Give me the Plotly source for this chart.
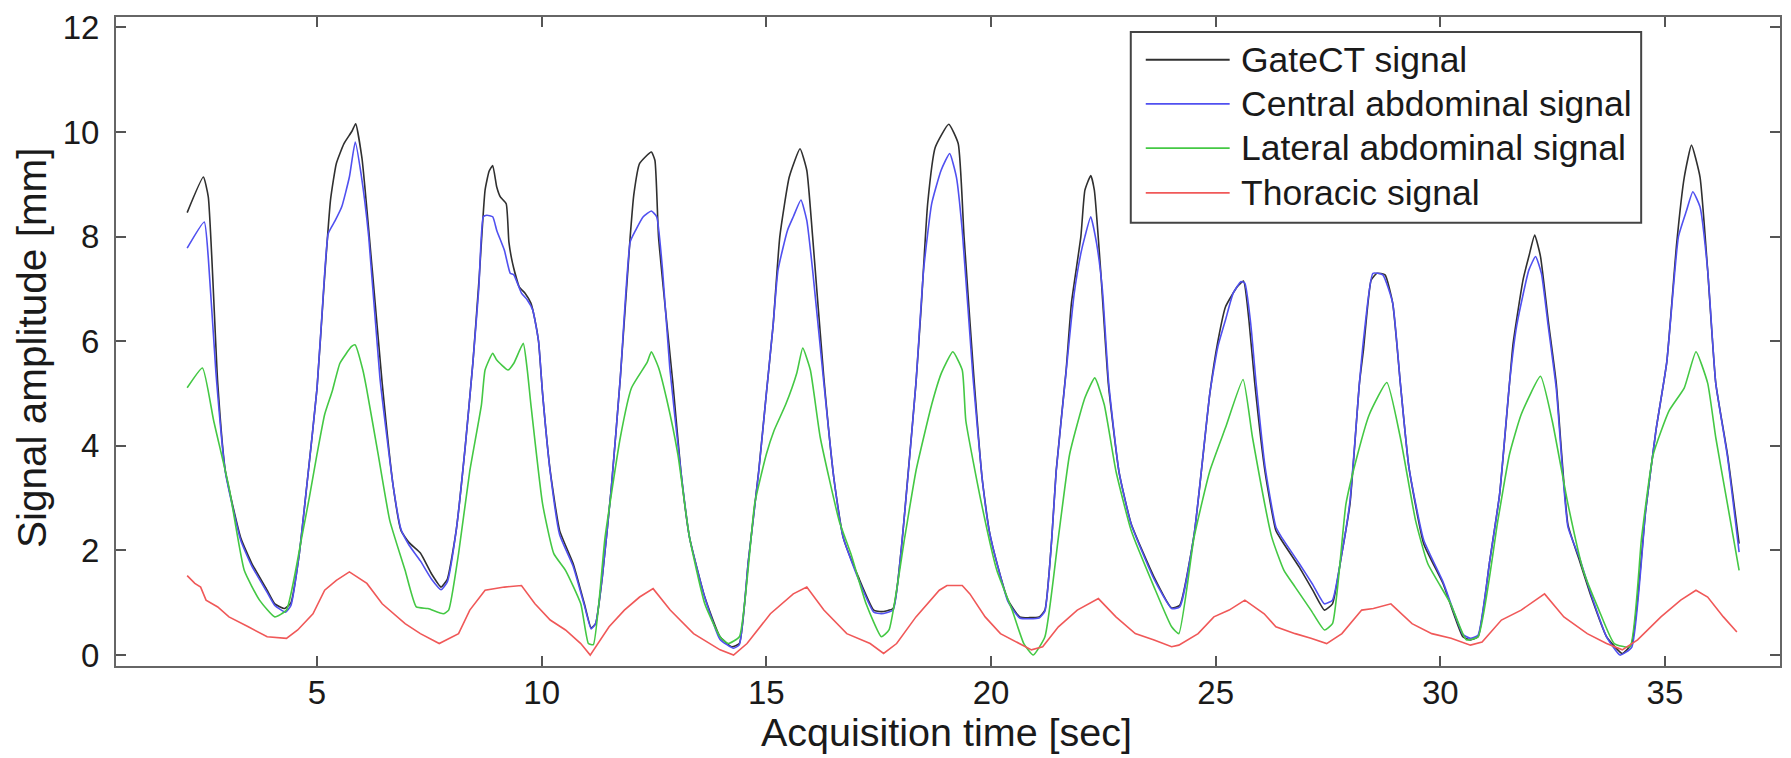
import plotly.graph_objects as go

# ---- respiratory signals (time in s, amplitude in mm) ----
gate_t = [2.11, 2.47, 2.58, 2.79, 2.96, 3.30, 3.55, 3.89, 4.06, 4.28, 4.42,
          4.60, 4.78, 5.00, 5.15, 5.30, 5.43, 5.60, 5.78, 5.86,
          6.00, 6.23, 6.45, 6.70, 6.87, 7.05, 7.30, 7.55, 7.76, 7.90,
          8.10, 8.30, 8.47, 8.61, 8.74, 8.83, 8.91, 9.00, 9.08, 9.21, 9.27, 9.35,
          9.50, 9.63, 9.76, 9.85, 9.93,
          10.02, 10.19, 10.40, 10.70, 10.95, 11.10, 11.20,
          11.35, 11.55, 11.75, 11.97, 12.05, 12.18, 12.44, 12.52,
          12.60, 12.74, 12.92, 13.10, 13.29, 13.63, 13.97, 14.23, 14.40,
          14.60, 14.83, 15.00, 15.15, 15.30, 15.51, 15.75, 15.90,
          16.03, 16.28, 16.50, 16.71, 17.05, 17.39, 17.56, 17.82,
          18.00, 18.16, 18.33, 18.45, 18.59, 18.76, 19.06, 19.27,
          19.40, 19.62, 19.80, 19.96, 20.15, 20.38, 20.64, 21.07, 21.20,
          21.35, 21.45, 21.67, 21.79, 22.00, 22.09, 22.22, 22.30,
          22.44, 22.61, 22.85, 23.12, 23.63, 24.02, 24.20,
          24.52, 24.87, 25.05, 25.22, 25.48, 25.62, 25.74, 25.87,
          26.10, 26.34, 26.47, 26.86, 27.16, 27.42, 27.60,
          27.80, 27.99, 28.20, 28.29, 28.46, 28.59, 28.77, 28.94, 29.11,
          29.30, 29.63, 30.06, 30.50, 30.67, 30.84,
          31.10, 31.32, 31.54, 31.62, 31.84, 31.97, 32.10, 32.23, 32.40, 32.58,
          32.84, 33.10, 33.36, 33.70, 34.05, 34.26,
          34.57, 34.80, 35.04, 35.26, 35.43, 35.59, 35.78, 35.95, 36.13, 36.39, 36.65]
gate_y = [8.46, 9.14, 8.76, 5.20, 3.52, 2.25, 1.75, 1.24, 0.98, 0.89, 1.00,
          1.90, 3.30, 5.10, 7.00, 8.70, 9.40, 9.78, 10.02, 10.16,
          9.50, 7.36, 5.20, 3.20, 2.38, 2.15, 1.95, 1.55, 1.30, 1.45,
          2.40, 4.00, 5.60, 7.23, 8.89, 9.25, 9.36, 8.95, 8.76, 8.63, 7.90, 7.50,
          7.04, 6.92, 6.73, 6.41, 6.00,
          5.00, 3.52, 2.38, 1.75, 0.98, 0.52, 0.60,
          1.50, 3.20, 5.30, 8.00, 8.80, 9.40, 9.62, 9.46,
          8.00, 6.73, 5.20, 3.50, 2.25, 1.11, 0.35, 0.16, 0.22,
          1.80, 3.52, 5.00, 6.30, 8.00, 9.14, 9.68, 9.27,
          8.00, 5.30, 3.40, 2.25, 1.49, 0.86, 0.83, 0.89,
          2.00, 3.52, 5.20, 6.70, 8.63, 9.71, 10.15, 9.78,
          8.00, 5.30, 3.40, 2.38, 1.70, 1.05, 0.73, 0.73, 0.86,
          2.20, 3.52, 5.43, 6.73, 8.00, 8.89, 9.17, 8.89,
          7.36, 5.20, 3.50, 2.51, 1.49, 0.90, 0.95,
          2.30, 5.00, 6.00, 6.66, 7.04, 7.15, 6.41, 5.20,
          3.50, 2.38, 2.19, 1.68, 1.24, 0.86, 0.98,
          1.90, 2.89, 5.20, 5.84, 7.17, 7.30, 7.27, 6.73, 5.20,
          3.60, 2.13, 1.37, 0.35, 0.29, 0.35,
          1.80, 3.08, 5.20, 5.96, 7.17, 7.62, 8.03, 7.62, 6.41, 5.20,
          2.50, 1.80, 1.11, 0.35, 0.03, 0.22,
          2.76, 4.30, 5.60, 7.87, 9.14, 9.75, 9.14, 7.36, 5.20, 3.84, 2.13]

central_t = [2.11, 2.49, 2.58, 2.75, 2.96, 3.30, 3.55, 3.89, 4.06, 4.30, 4.42,
             4.60, 4.78, 5.00, 5.17, 5.25, 5.40, 5.55, 5.72, 5.85, 5.98, 6.15,
             6.40, 6.70, 6.87, 7.05, 7.30, 7.55, 7.76, 7.90,
             8.10, 8.30, 8.47, 8.60, 8.70, 8.78, 8.91, 9.00, 9.17, 9.30, 9.38,
             9.55, 9.68, 9.80, 9.93,
             10.02, 10.19, 10.40, 10.70, 10.95, 11.10, 11.20,
             11.35, 11.55, 11.75, 11.97, 12.09, 12.26, 12.44, 12.56, 12.69, 12.85,
             13.10, 13.29, 13.63, 13.97, 14.27, 14.40,
             14.60, 14.83, 15.00, 15.15, 15.26, 15.47, 15.60, 15.77, 15.90, 16.03,
             16.28, 16.50, 16.71, 17.05, 17.39, 17.56, 17.82,
             18.00, 18.16, 18.33, 18.50, 18.68, 18.89, 19.08, 19.23, 19.36,
             19.60, 19.80, 19.96, 20.15, 20.38, 20.64, 21.07, 21.20,
             21.35, 21.45, 21.67, 21.85, 22.00, 22.09, 22.22, 22.35, 22.48,
             22.62, 22.85, 23.12, 23.63, 24.02, 24.20,
             24.52, 24.87, 25.05, 25.22, 25.39, 25.56, 25.65, 25.78, 25.90,
             26.10, 26.34, 26.47, 26.86, 27.16, 27.42, 27.60,
             27.80, 27.99, 28.20, 28.30, 28.50, 28.72, 28.94, 29.11,
             29.30, 29.63, 30.06, 30.50, 30.67, 30.84,
             31.10, 31.32, 31.54, 31.70, 31.97, 32.12, 32.25, 32.40, 32.58,
             32.84, 33.10, 33.36, 33.70, 34.00, 34.26,
             34.57, 34.80, 35.04, 35.30, 35.48, 35.62, 35.78, 35.95, 36.13, 36.39, 36.65]
central_y = [7.78, 8.28, 7.60, 5.40, 3.50, 2.20, 1.70, 1.20, 0.95, 0.82, 0.95,
             1.90, 3.30, 5.10, 7.30, 8.06, 8.30, 8.57, 9.14, 9.81, 9.20, 8.00,
             5.30, 3.20, 2.40, 2.10, 1.80, 1.45, 1.25, 1.40,
             2.40, 4.00, 5.60, 7.00, 8.38, 8.41, 8.38, 8.12, 7.74, 7.30, 7.27,
             6.92, 6.79, 6.60, 6.00,
             5.00, 3.50, 2.30, 1.70, 0.95, 0.50, 0.60,
             1.50, 3.20, 5.30, 7.90, 8.12, 8.38, 8.49, 8.38, 7.36, 5.50,
             3.50, 2.25, 1.10, 0.30, 0.13, 0.20,
             1.80, 3.50, 5.00, 6.30, 7.36, 8.12, 8.38, 8.70, 8.31, 7.36,
             5.20, 3.40, 2.25, 1.45, 0.82, 0.79, 0.86,
             2.00, 3.50, 5.20, 7.36, 8.63, 9.27, 9.59, 9.14, 8.12,
             5.30, 3.40, 2.38, 1.70, 1.02, 0.71, 0.71, 0.84,
             2.20, 3.50, 5.40, 6.90, 7.68, 8.00, 8.38, 7.87, 6.98,
             5.20, 3.50, 2.50, 1.45, 0.89, 0.92,
             2.30, 5.00, 5.90, 6.41, 6.92, 7.14, 7.11, 6.34, 5.20,
             3.60, 2.45, 2.25, 1.75, 1.35, 0.98, 1.05,
             1.90, 2.95, 5.20, 6.10, 7.30, 7.27, 6.73, 5.20,
             3.60, 2.20, 1.40, 0.40, 0.32, 0.38,
             1.80, 3.08, 5.20, 6.30, 7.36, 7.62, 7.30, 6.30, 5.10,
             2.45, 1.85, 1.15, 0.35, 0.00, 0.15,
             2.76, 4.30, 5.60, 8.00, 8.50, 8.86, 8.57, 7.36, 5.20, 3.80, 1.97]

lateral_t = [2.11, 2.45, 2.70, 3.04, 3.38, 3.72, 4.06, 4.32, 4.66, 4.83, 5.00, 5.17,
             5.34, 5.51, 5.77, 5.85, 6.02, 6.10, 6.36, 6.62, 6.96, 7.21, 7.47, 7.81,
             7.93, 8.15, 8.40, 8.66, 8.74, 8.91, 9.00, 9.25, 9.38, 9.59, 9.68, 9.76,
             10.02, 10.27, 10.53, 10.87, 11.04, 11.15,
             11.41, 11.75, 12.00, 12.35, 12.44, 12.60, 12.78, 13.03, 13.29, 13.63,
             13.97, 14.15, 14.40,
             14.74, 15.00, 15.17, 15.43, 15.68, 15.81, 15.98, 16.20, 16.62, 16.88,
             17.22, 17.56, 17.73,
             18.08, 18.33, 18.68, 18.90, 19.15, 19.36, 19.44, 19.79, 20.13, 20.47,
             20.73, 20.94, 21.20,
             21.50, 21.75, 22.09, 22.31, 22.52, 22.78, 23.12, 23.63, 24.02, 24.18,
             24.52, 24.87, 25.22, 25.61, 25.82, 26.25, 26.52, 26.77, 27.12, 27.42, 27.60,
             27.90, 28.16, 28.42, 28.81, 29.11, 29.45, 29.72, 30.23, 30.58, 30.84,
             31.28, 31.54, 31.80, 32.23, 32.49, 32.84, 33.18, 33.53, 33.87, 34.22,
             34.48, 34.74, 35.09, 35.43, 35.69, 35.95, 36.13, 36.39, 36.65]
lateral_y = [5.11, 5.49, 4.48, 3.21, 1.62, 1.05, 0.73, 0.86, 2.25, 3.02, 3.84, 4.60,
             5.05, 5.58, 5.90, 5.93, 5.45, 5.11, 3.84, 2.57, 1.62, 0.92, 0.89, 0.79,
             0.86, 1.94, 3.52, 4.79, 5.45, 5.77, 5.64, 5.45, 5.58, 5.96, 5.45, 4.79,
             2.89, 1.94, 1.62, 0.98, 0.22, 0.20,
             2.25, 4.16, 5.11, 5.60, 5.80, 5.50, 4.90, 3.84, 2.25, 0.98,
             0.35, 0.22, 0.35,
             2.89, 3.84, 4.29, 4.79, 5.40, 5.87, 5.45, 4.16, 2.57, 1.94,
             0.98, 0.35, 0.48,
             2.25, 3.52, 4.79, 5.40, 5.80, 5.45, 4.48, 2.89, 1.62, 0.86,
             0.22, 0.00, 0.35,
             2.25, 3.84, 4.92, 5.30, 4.79, 3.52, 2.38, 1.30, 0.54, 0.41,
             2.25, 3.52, 4.35, 5.27, 4.16, 2.25, 1.62, 1.30, 0.86, 0.48, 0.60,
             2.89, 3.84, 4.60, 5.21, 4.16, 2.57, 1.75, 0.98, 0.29, 0.35,
             2.57, 3.84, 4.60, 5.33, 4.48, 2.89, 1.62, 0.86, 0.22, 0.16,
             2.25, 3.84, 4.67, 5.11, 5.80, 5.20, 4.16, 2.89, 1.62]

thoracic_t = [2.11, 2.28, 2.41, 2.53, 2.79, 3.04, 3.47, 3.89, 4.32, 4.57, 4.91, 5.17,
              5.43, 5.72, 6.11, 6.45, 6.96, 7.30, 7.72, 8.15, 8.40, 8.74, 9.17, 9.55,
              9.85, 10.19, 10.53, 10.87, 11.08,
              11.50, 11.84, 12.18, 12.48, 12.86, 13.38, 13.97, 14.27, 14.57, 15.09,
              15.60, 15.90, 16.28, 16.79, 17.31, 17.61, 17.90, 18.33, 18.85, 19.02,
              19.36, 19.53, 19.87, 20.21, 20.64, 20.90, 21.15, 21.50, 21.92, 22.39,
              22.78, 23.21, 23.63, 24.02,
              24.18, 24.61, 24.96, 25.30, 25.65, 26.08, 26.34, 26.77, 27.12, 27.47,
              27.81, 28.25, 28.51, 28.90, 29.37, 29.81, 30.24, 30.67, 30.93, 31.36,
              31.80, 32.32, 32.75, 33.27, 33.70, 34.05, 34.39, 34.91, 35.35, 35.69,
              35.95, 36.30, 36.60]
thoracic_y = [1.52, 1.37, 1.30, 1.05, 0.92, 0.73, 0.54, 0.35, 0.32, 0.48, 0.79, 1.24,
              1.43, 1.59, 1.37, 0.98, 0.60, 0.41, 0.22, 0.41, 0.86, 1.24, 1.30, 1.33,
              0.98, 0.67, 0.48, 0.22, 0.00,
              0.54, 0.86, 1.11, 1.27, 0.86, 0.41, 0.10, 0.00, 0.22, 0.79,
              1.17, 1.30, 0.86, 0.41, 0.22, 0.03, 0.22, 0.73, 1.24, 1.33,
              1.33, 1.17, 0.73, 0.41, 0.22, 0.10, 0.16, 0.54, 0.86, 1.08,
              0.73, 0.41, 0.29, 0.16,
              0.19, 0.41, 0.73, 0.86, 1.05, 0.79, 0.54, 0.41, 0.32, 0.22,
              0.41, 0.86, 0.89, 0.98, 0.60, 0.41, 0.32, 0.19, 0.25, 0.67,
              0.86, 1.17, 0.73, 0.41, 0.22, 0.10, 0.29, 0.73, 1.05, 1.24,
              1.11, 0.73, 0.44]

series_names = ["GateCT signal", "Central abdominal signal",
                "Lateral abdominal signal", "Thoracic signal"]
series_colors = ["#303030", "#5050f0", "#44c844", "#f05858"]
series_smooth = [0.45, 0.45, 0.45, 0.0]

x_ticks = [5, 10, 15, 20, 25, 30, 35]
y_ticks = [0, 2, 4, 6, 8, 10, 12]

FONT = "Liberation Sans, Arial, sans-serif"
W, H = 1791, 758
ML, MR, MT, MB = 116, 9, 13, 92
PW, PH = W - ML - MR, H - MT - MB


def px(xp):
    return (xp - ML) / PW


def py(yp):
    return (H - MB - yp) / PH


fig = go.Figure()
data = [(gate_t, gate_y), (central_t, central_y),
        (lateral_t, lateral_y), (thoracic_t, thoracic_y)]
for (t, y), name, col, sm in zip(data, series_names, series_colors, series_smooth):
    line = dict(color=col, width=1.6)
    if sm > 0:
        line.update(shape="spline", smoothing=sm)
    fig.add_trace(go.Scatter(x=t, y=y, mode="lines", name=name, line=line,
                             showlegend=False))

axis_common = dict(showline=True, linecolor="#666666", linewidth=2,
                   mirror="ticks", ticks="inside", ticklen=10, tickwidth=1.5,
                   tickcolor="#555555", showgrid=False, zeroline=False,
                   tickfont=dict(family=FONT, size=33, color="#1a1a1a"))

fig.update_xaxes(range=[0.526, 37.56], tickvals=x_ticks,
                 ticktext=[str(v) for v in x_ticks], ticklabelstandoff=-4,
                 **axis_common)
fig.update_yaxes(range=[-0.209, 12.2], tickvals=y_ticks,
                 ticktext=[str(v) for v in y_ticks], ticklabelstandoff=8,
                 **axis_common)

annotations = [
    dict(text="Acquisition time [sec]", x=px(947), y=py(732), xref="paper",
         yref="paper", xanchor="center", yanchor="middle", showarrow=False,
         font=dict(family=FONT, size=39.5, color="#1a1a1a")),
    dict(text="Signal amplitude [mm]", x=px(32), y=py(346), xref="paper",
         yref="paper", xanchor="center", yanchor="middle", showarrow=False,
         textangle=-90, font=dict(family=FONT, size=40.5, color="#1a1a1a")),
]

# boxed legend in the upper right
shapes = [dict(type="rect", xref="paper", yref="paper",
               x0=px(1132), x1=px(1643), y0=py(220), y1=py(28),
               line=dict(color="#444444", width=2), fillcolor="white",
               layer="above")]
row_y = [56, 100.5, 145, 190]
for ry, name, col in zip(row_y, series_names, series_colors):
    shapes.append(dict(type="line", xref="paper", yref="paper",
                       x0=px(1147), x1=px(1231), y0=py(ry), y1=py(ry),
                       line=dict(color=col, width=1.8), layer="above"))
    annotations.append(dict(text=name, x=px(1240), y=py(ry), xref="paper",
                            yref="paper", xanchor="left", yanchor="middle",
                            showarrow=False,
                            font=dict(family=FONT, size=35.5, color="#1a1a1a")))

fig.update_layout(width=W, height=H,
                  margin=dict(l=ML, r=MR, t=MT, b=MB, pad=0),
                  paper_bgcolor="white", plot_bgcolor="white",
                  shapes=shapes, annotations=annotations, showlegend=False)

fig.write_html("out.html")
